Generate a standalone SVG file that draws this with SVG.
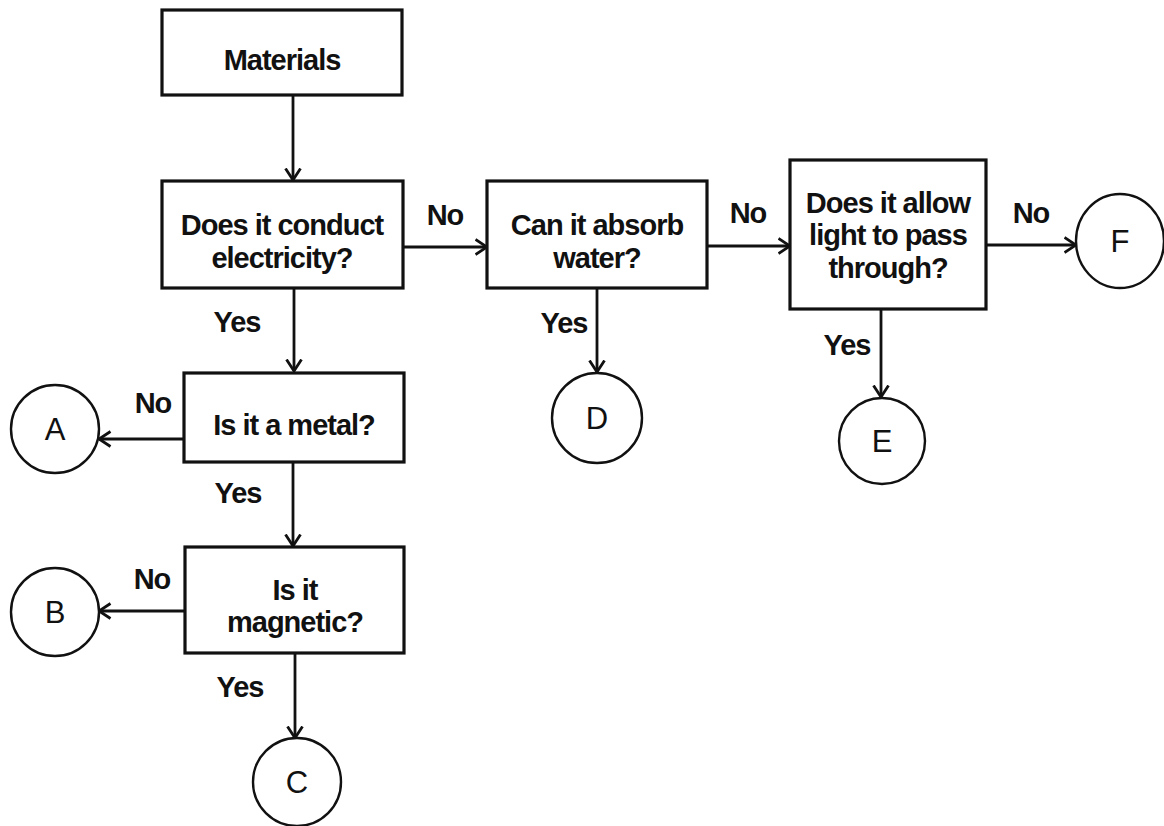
<svg xmlns="http://www.w3.org/2000/svg" width="1164" height="826" viewBox="0 0 1164 826">
<style>
.box{fill:#fff;stroke:#111;stroke-width:3.2}
.circ{fill:#fff;stroke:#111;stroke-width:2.4}
.t{font-family:"Liberation Sans",Arial,sans-serif;font-size:29px;font-weight:bold;letter-spacing:-1px;text-anchor:middle;fill:#111}
.l{font-family:"Liberation Sans",Arial,sans-serif;font-size:31px;font-weight:normal;text-anchor:middle;fill:#111}
.c{fill:none;stroke:#111;stroke-width:2.8}
</style>
<defs>
<marker id="arr" viewBox="0 0 14 18" refX="12.5" refY="9" markerWidth="14" markerHeight="18" markerUnits="userSpaceOnUse" orient="auto">
<path d="M1,1.5 L12.5,9 L1,16.5" fill="none" stroke="#111" stroke-width="2.8"/>
</marker>
</defs>
<rect width="1164" height="826" fill="#fff"/>
<g id="connectors">
<path class="c" d="M293,95 L293,180" marker-end="url(#arr)"/>
<path class="c" d="M403,247 L487,247" marker-end="url(#arr)"/>
<path class="c" d="M294,288 L294,371" marker-end="url(#arr)"/>
<path class="c" d="M707,246 L790,246" marker-end="url(#arr)"/>
<path class="c" d="M597,288 L597,372" marker-end="url(#arr)"/>
<path class="c" d="M986,245 L1076,245" marker-end="url(#arr)"/>
<path class="c" d="M881,309 L881,397" marker-end="url(#arr)"/>
<path class="c" d="M184,439 L99,439" marker-end="url(#arr)"/>
<path class="c" d="M293,462 L293,546" marker-end="url(#arr)"/>
<path class="c" d="M185,611 L99,611" marker-end="url(#arr)"/>
<path class="c" d="M295,653 L295,738" marker-end="url(#arr)"/>
<text class="t" x="445" y="225">No</text>
<text class="t" x="748" y="223">No</text>
<text class="t" x="1031" y="223">No</text>
<text class="t" x="237" y="332">Yes</text>
<text class="t" x="564" y="333">Yes</text>
<text class="t" x="847" y="355">Yes</text>
<text class="t" x="153" y="413">No</text>
<text class="t" x="238" y="503">Yes</text>
<text class="t" x="152" y="589">No</text>
<text class="t" x="240" y="697">Yes</text>
</g>
<g id="materials">
<rect class="box" x="162" y="10" width="240" height="85"/>
<text class="t" x="282" y="70">Materials</text>
</g>
<g id="conduct">
<rect class="box" x="162" y="181" width="241" height="107"/>
<text class="t" x="282" y="235">Does it conduct</text>
<text class="t" x="282" y="268">electricity?</text>
</g>
<g id="absorb">
<rect class="box" x="487" y="181" width="220" height="107"/>
<text class="t" x="597" y="235">Can it absorb</text>
<text class="t" x="597" y="268">water?</text>
</g>
<g id="light">
<rect class="box" x="790" y="160" width="196" height="149"/>
<text class="t" x="888" y="213">Does it allow</text>
<text class="t" x="888" y="245">light to pass</text>
<text class="t" x="888" y="278">through?</text>
</g>
<g id="metal">
<rect class="box" x="184" y="373" width="220" height="89"/>
<text class="t" x="294" y="435">Is it a metal?</text>
</g>
<g id="magnetic">
<rect class="box" x="185" y="547" width="219" height="106"/>
<text class="t" x="295" y="600">Is it</text>
<text class="t" x="295" y="632">magnetic?</text>
</g>
<g id="A"><circle class="circ" cx="55" cy="429" r="44"/><text class="l" x="55" y="440">A</text></g>
<g id="B"><circle class="circ" cx="55" cy="612" r="44"/><text class="l" x="55" y="623">B</text></g>
<g id="C"><circle class="circ" cx="297" cy="782" r="44"/><text class="l" x="297" y="793">C</text></g>
<g id="D"><circle class="circ" cx="597" cy="418" r="45"/><text class="l" x="597" y="429">D</text></g>
<g id="E"><circle class="circ" cx="882" cy="441" r="43"/><text class="l" x="882" y="452">E</text></g>
<g id="F"><ellipse class="circ" cx="1120" cy="241" rx="44" ry="47"/><text class="l" x="1120" y="252">F</text></g>
</svg>
